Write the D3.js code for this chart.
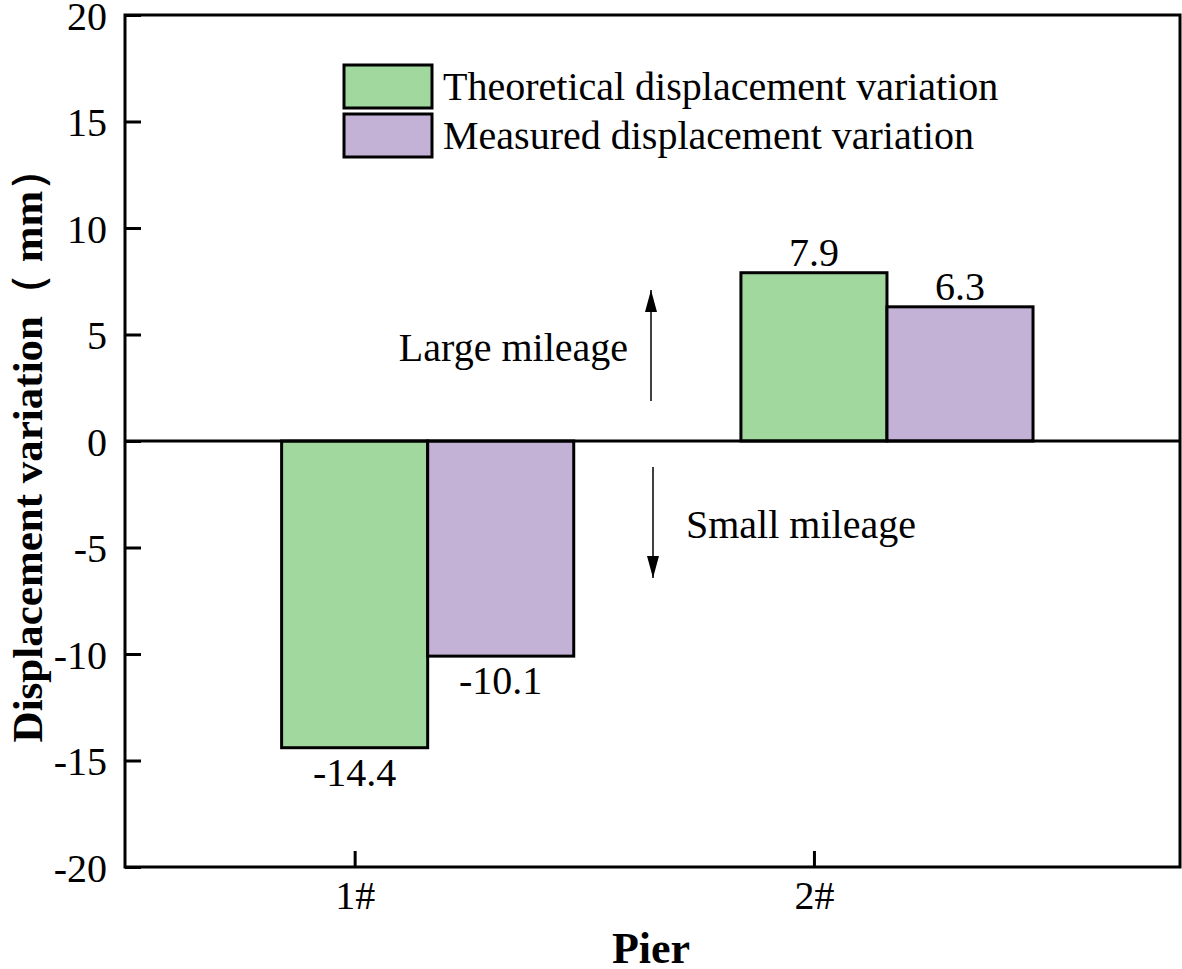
<!DOCTYPE html>
<html>
<head>
<meta charset="utf-8">
<script src="https://cdn.jsdelivr.net/npm/d3@7"></script>
<style>
body { margin: 0; background: #fff; }
text { font-family: "Liberation Serif", "Times New Roman", serif; fill: #000; }
</style>
</head>
<body>
<svg id="chart" width="1182" height="969"></svg>
<script>
const categories = ["1#", "2#"];
const seriesNames = ["Theoretical displacement variation", "Measured displacement variation"];
const theoretical = [-14.4, 7.9];
const measured = [-10.1, 6.3];
const yTicks = [-20, -15, -10, -5, 0, 5, 10, 15, 20];
const colors = ["#A0D89E", "#C3B1D6"];

const svg = d3.select("#chart");
const L = 125, R = 1180, T = 15, B = 867;
const x = d3.scaleLinear().domain([0.5, 2.797]).range([L, R]);
const y = d3.scaleLinear().domain([-20, 20]).range([B, T]);
const barW = 0.318;
const FS = 40;

// bars
const series = [theoretical, measured];
series.forEach((vals, s) => {
  svg.selectAll(".bar" + s).data(vals).enter().append("rect")
    .attr("x", (d, i) => x(i + 1 - barW / 2 + s * barW))
    .attr("width", x(barW) - x(0))
    .attr("y", d => y(Math.max(0, d)))
    .attr("height", d => Math.abs(y(d) - y(0)))
    .attr("fill", colors[s])
    .attr("stroke", "#000")
    .attr("stroke-width", 3);
  svg.selectAll(".lbl" + s).data(vals).enter().append("text")
    .attr("x", (d, i) => x(i + 1 + s * barW))
    .attr("y", d => d >= 0 ? y(d) - 7 : y(d) + 38)
    .attr("text-anchor", "middle")
    .attr("font-size", FS)
    .text(d => d.toFixed(1));
});

// zero line
svg.append("line").attr("x1", L).attr("x2", R).attr("y1", y(0)).attr("y2", y(0))
  .attr("stroke", "#000").attr("stroke-width", 3);

// axes
const yAxis = d3.axisLeft(y).tickValues(yTicks).tickSizeInner(-16).tickSizeOuter(0).tickPadding(18)
  .tickFormat(d => String(d));
const gy = svg.append("g").attr("transform", `translate(${L},0)`).call(yAxis);
gy.select(".domain").remove();
gy.selectAll(".tick line").attr("stroke", "#000").attr("stroke-width", 3);
gy.selectAll(".tick text").attr("font-size", FS).attr("dy", "0.35em");

const xAxis = d3.axisBottom(x).tickValues([1, 2]).tickSizeInner(-16).tickSizeOuter(0).tickPadding(14)
  .tickFormat(d => categories[d - 1]);
const gx = svg.append("g").attr("transform", `translate(0,${B})`).call(xAxis);
gx.select(".domain").remove();
gx.selectAll(".tick line").attr("stroke", "#000").attr("stroke-width", 3);
gx.selectAll(".tick text").attr("font-size", FS).attr("dy", "0.71em");

// frame
svg.append("rect").attr("x", L).attr("y", T).attr("width", R - L).attr("height", B - T)
  .attr("fill", "none").attr("stroke", "#000").attr("stroke-width", 3);

// axis titles
svg.append("text").attr("x", 651).attr("y", 963).attr("text-anchor", "middle")
  .attr("font-size", 44).attr("font-weight", "bold").text("Pier");
svg.append("text").attr("transform", `translate(42,${y(0)+4}) rotate(-90)`).attr("text-anchor", "middle")
  .attr("font-size", 43).attr("font-weight", "bold").text("Displacement variation（ mm）");

// legend
seriesNames.forEach((n, i) => {
  svg.append("rect").attr("x", 344).attr("y", 65 + i * 49).attr("width", 88).attr("height", 43)
    .attr("fill", colors[i]).attr("stroke", "#000").attr("stroke-width", 3);
  svg.append("text").attr("x", 443).attr("y", 100 + i * 49).attr("font-size", FS).text(n);
});

// annotations
const defs = svg.append("defs");
defs.append("marker").attr("id", "arr").attr("viewBox", "0 0 22 12").attr("refX", 22).attr("refY", 6)
  .attr("markerWidth", 22).attr("markerHeight", 12).attr("markerUnits", "userSpaceOnUse").attr("orient", "auto")
  .append("path").attr("d", "M0,0 L22,6 L0,12 Z").attr("fill", "#000");
svg.append("line").attr("x1", 651).attr("x2", 651).attr("y1", 401).attr("y2", 290)
  .attr("stroke", "#000").attr("stroke-width", 1.5).attr("marker-end", "url(#arr)");
svg.append("line").attr("x1", 653).attr("x2", 653).attr("y1", 467).attr("y2", 578)
  .attr("stroke", "#000").attr("stroke-width", 1.5).attr("marker-end", "url(#arr)");
svg.append("text").attr("x", 628).attr("y", 361).attr("text-anchor", "end").attr("font-size", FS).text("Large mileage");
svg.append("text").attr("x", 686).attr("y", 538).attr("font-size", FS).text("Small mileage");
</script>
</body>
</html>
